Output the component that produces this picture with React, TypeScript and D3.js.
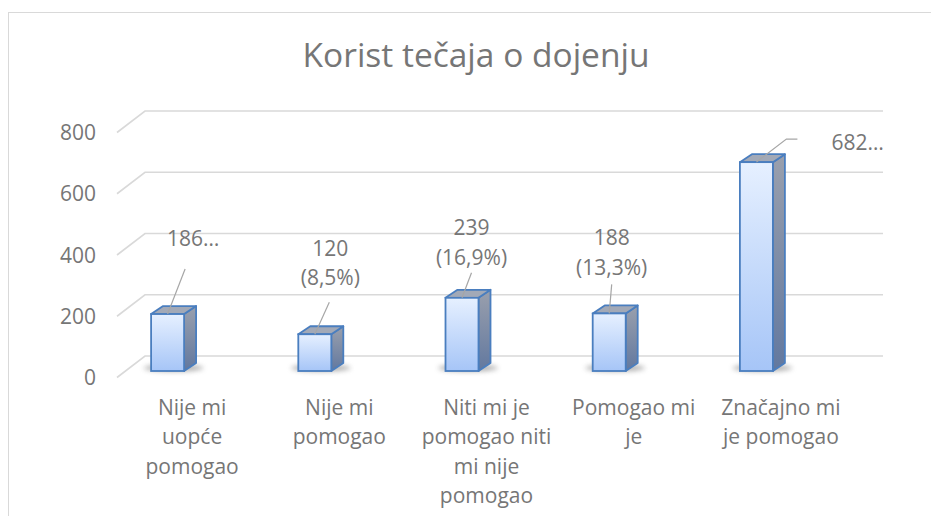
import React from "react";
import * as d3 from "d3";

const categories = [
  "Nije mi uopće pomogao",
  "Nije mi pomogao",
  "Niti mi je pomogao niti mi nije pomogao",
  "Pomogao mi je",
  "Značajno mi je pomogao",
];
const values = [186, 120, 239, 188, 682];
const yTicks = [0, 200, 400, 600, 800];
const truncatedLabels = [true, false, false, false, true];
const title = "Korist tečaja o dojenju";

// layout (not data)
const W = 931;
const H = 516;
const FONT = "'Open Sans', sans-serif";
const TEXT = "#767676";
const GRID = "#d9d9d9";
const backLeft = 145;
const backRight = 883;
const floorDx = -28;
const floorDy = 21.5;
const barFrontDy = 15;
const depthX = 12;
const depthY = -8;
const barW = 33;
const labelFont = 21;
const lineH = 29.4;
const wrapWidth = 133;

// label placement relative to each bar's front-top centre
const labelLayout = [
  { lx: 25.5, ly: -76, ex: 17.5, ey: -45, elbow: 0, anchor: "middle" },
  { lx: 15.5, ly: -71, ex: 14.5, ey: -32, elbow: 0, anchor: "middle" },
  { lx: 9.5, ly: -55.5, ex: 9.5, ey: -25, elbow: 0, anchor: "middle" },
  { lx: 2.5, ly: -61, ex: 2.5, ey: -29, elbow: 0, anchor: "middle" },
  { lx: 75, ly: -20, ex: 30, ey: -23, elbow: 11, anchor: "start" },
];

function wrap(text: string, font: string, max: number): string[] {
  const c = document.createElement("canvas").getContext("2d")!;
  c.font = font;
  const words = text.split(" ");
  const lines: string[] = [];
  let cur = "";
  for (const w of words) {
    const t = cur ? cur + " " + w : w;
    if (cur && c.measureText(t).width > max) {
      lines.push(cur);
      cur = w;
    } else cur = t;
  }
  if (cur) lines.push(cur);
  return lines;
}

export default function App() {
  const y = d3.scaleLinear().domain([0, 800]).range([356, 111]);
  const x = d3.scaleBand<string>().domain(categories).range([94, 830]).padding(0);
  const total = d3.sum(values);
  const fmtPct = (v: number) => (v / total * 100).toFixed(1).replace(".", ",");

  return (
    <svg width={W} height={H} style={{ position: "absolute", left: 0, top: 0, background: "#fff" }} fontFamily={FONT}>
      <defs>
        <linearGradient id="front" x1="0" y1="0" x2="0" y2="1">
          <stop offset="0" stopColor="#e6f0ff" />
          <stop offset="1" stopColor="#a6c5f7" />
        </linearGradient>
        <linearGradient id="side" x1="0" y1="0" x2="0" y2="1">
          <stop offset="0" stopColor="#9aa0ad" />
          <stop offset="1" stopColor="#62789f" />
        </linearGradient>
        <filter id="blur" x="-50%" y="-200%" width="200%" height="500%">
          <feGaussianBlur stdDeviation="2.5" />
        </filter>
      </defs>
      <rect x={8.5} y={12.5} width={940} height={520} fill="#fff" stroke={GRID} strokeWidth={1} />
      <text x={476} y={67} textAnchor="middle" fontSize={33.5} fill={TEXT}>{title}</text>

      {/* gridlines */}
      {yTicks.map((t) => (
        <g key={t}>
          <polyline
            points={`${backLeft + floorDx},${y(t) + floorDy} ${backLeft},${y(t)} ${backRight},${y(t)}`}
            fill="none" stroke={GRID} strokeWidth={1.6}
          />
          <text x={96} y={y(t) + floorDy + 7.5} textAnchor="end" fontSize={labelFont} fill={TEXT}>{t}</text>
        </g>
      ))}

      {/* bars */}
      {categories.map((c, i) => {
        const cx = x(c)! + x.bandwidth() / 2;
        const x0 = cx - barW / 2;
        const x1 = cx + barW / 2;
        const yb = y(0) + barFrontDy;
        const yt = y(values[i]) + barFrontDy;
        return (
          <g key={c}>
            <ellipse cx={cx + 6} cy={yb - 3} rx={30} ry={3.5} fill="#6f6f6f" opacity={0.55} filter="url(#blur)" />
            <polygon
              points={`${x1},${yt} ${x1 + depthX},${yt + depthY} ${x1 + depthX},${yb + depthY} ${x1},${yb}`}
              fill="url(#side)" stroke="#4a7ebf" strokeWidth={1.8} strokeLinejoin="round"
            />
            <polygon
              points={`${x0},${yt} ${x0 + depthX},${yt + depthY} ${x1 + depthX},${yt + depthY} ${x1},${yt}`}
              fill="#a2a9b7" stroke="#4a7ebf" strokeWidth={1.8} strokeLinejoin="round"
            />
            <rect x={x0} y={yt} width={barW} height={yb - yt} fill="url(#front)" stroke="#4a7ebf" strokeWidth={1.8} />
          </g>
        );
      })}

      {/* data labels with leader lines */}
      {categories.map((c, i) => {
        const cx = x(c)! + x.bandwidth() / 2;
        const yt = y(values[i]) + barFrontDy;
        const L = labelLayout[i];
        const lines = truncatedLabels[i] ? [`${values[i]}…`] : [`${values[i]}`, `(${fmtPct(values[i])}%)`];
        const pts = [[cx, yt], [cx + L.ex, yt + L.ey]];
        if (L.elbow) pts.push([cx + L.ex + L.elbow, yt + L.ey]);
        const top = yt + L.ly - ((lines.length - 1) * lineH) / 2;
        return (
          <g key={c}>
            <polyline points={pts.map((p) => p.join(",")).join(" ")} fill="none" stroke="#a6a6a6" strokeWidth={1.2} />
            {lines.map((ln, j) => (
              <text key={j} x={cx + L.lx} y={top + j * lineH + 7.5} textAnchor={L.anchor as any} fontSize={labelFont} fill={TEXT}>
                {ln}
              </text>
            ))}
          </g>
        );
      })}

      {/* category labels */}
      {categories.map((c) => {
        const cx = x(c)! + x.bandwidth() / 2 + 24.5;
        const lines = wrap(c, `${labelFont}px 'Open Sans'`, wrapWidth);
        return (
          <text key={c} textAnchor="middle" fontSize={labelFont} fill={TEXT}>
            {lines.map((ln, j) => (
              <tspan key={j} x={cx} y={415 + j * lineH}>{ln}</tspan>
            ))}
          </text>
        );
      })}
    </svg>
  );
}
